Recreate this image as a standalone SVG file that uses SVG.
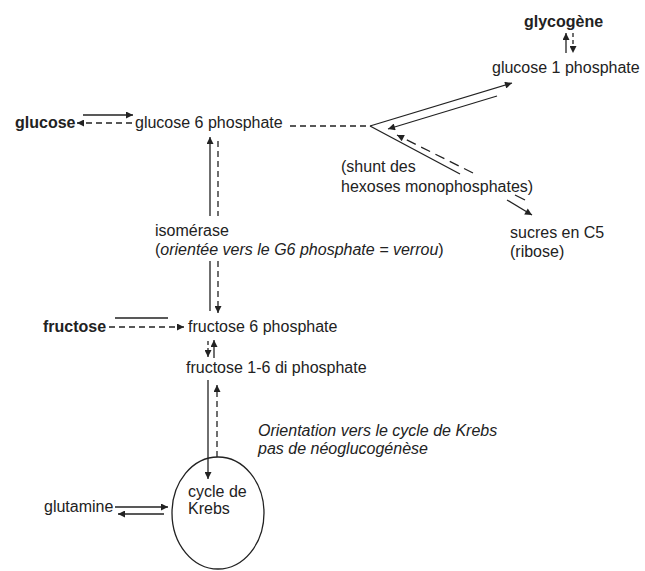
<svg xmlns="http://www.w3.org/2000/svg" width="645" height="571" viewBox="0 0 645 571">
<style>
.t{font-family:"Liberation Sans",Arial,Helvetica,sans-serif;font-size:16px;fill:#222}
.b{font-weight:bold}
.i{font-style:italic}
.s{stroke:#222;stroke-width:1.3;fill:none}
.d{stroke:#222;stroke-width:1.3;fill:none;stroke-dasharray:6 4}
</style>
<defs>
<marker id="ah" viewBox="0 0 10 10" refX="10" refY="5" markerWidth="9" markerHeight="7" orient="auto" markerUnits="userSpaceOnUse">
<path d="M0,0 L10,5 L0,10 z" fill="#222"/>
</marker>
</defs>
<rect width="645" height="571" fill="#ffffff"/>

<g id="glycogene"><text class="t b" x="524" y="27">glycogène</text></g>
<g id="glucose1p"><text class="t" x="492" y="73">glucose 1 phosphate</text></g>
<g id="glucose"><text class="t b" x="15" y="128">glucose</text></g>
<g id="glucose6p"><text class="t" x="135" y="128">glucose 6 phosphate</text></g>
<g id="shunt"><text class="t" x="341" y="172">(shunt des</text><text class="t" x="341" y="192">hexoses monophosphates)</text></g>
<g id="sucres"><text class="t" x="510" y="238">sucres en C5</text><text class="t" x="510" y="257">(ribose)</text></g>
<g id="isomerase"><text class="t" x="155" y="236">isomérase</text><text class="t" x="155" y="255">(<tspan class="i">orientée vers le G6 phosphate = verrou</tspan>)</text></g>
<g id="fructose"><text class="t b" x="43" y="332">fructose</text></g>
<g id="fructose6p"><text class="t" x="188" y="332">fructose 6 phosphate</text></g>
<g id="fructose16dp"><text class="t" x="186" y="373">fructose 1-6 di phosphate</text></g>
<g id="orientation"><text class="t i" x="258" y="436">Orientation vers le cycle de Krebs</text><text class="t i" x="258" y="454">pas de néoglucogénèse</text></g>
<g id="krebs"><ellipse cx="218" cy="513" rx="46" ry="56" class="s"/><text class="t" x="188" y="497">cycle de</text><text class="t" x="188" y="514">Krebs</text></g>
<g id="glutamine"><text class="t" x="44" y="512">glutamine</text></g>

<g id="connectors">
<line class="s" x1="566" y1="53" x2="566" y2="33" marker-end="url(#ah)"/>
<line class="d" x1="573" y1="33" x2="573" y2="53" style="stroke-dasharray:4 3" marker-end="url(#ah)"/>
<line class="s" x1="83" y1="115" x2="133" y2="115" marker-end="url(#ah)"/>
<line class="d" x1="132" y1="123" x2="77" y2="123" marker-end="url(#ah)"/>
<line class="d" x1="290" y1="126" x2="370" y2="126"/>
<line class="s" x1="370" y1="126" x2="512" y2="83" marker-end="url(#ah)"/>
<line class="s" x1="497" y1="96" x2="388" y2="129" marker-end="url(#ah)"/>
<line class="s" x1="370" y1="126" x2="460" y2="174"/>
<line class="d" x1="473" y1="173" x2="397" y2="135" style="stroke-dasharray:10 6" marker-end="url(#ah)"/>
<line class="s" x1="507" y1="200" x2="532" y2="215" marker-end="url(#ah)"/>
<line class="s" x1="515" y1="195" x2="525" y2="200"/>
<line class="s" x1="210" y1="216" x2="210" y2="137" marker-end="url(#ah)"/>
<line class="d" x1="218" y1="141" x2="218" y2="216"/>
<line class="s" x1="210" y1="261" x2="210" y2="311"/>
<line class="d" x1="218" y1="261" x2="218" y2="313" marker-end="url(#ah)"/>
<line class="s" x1="115" y1="318" x2="168" y2="318"/>
<line class="d" x1="109" y1="327" x2="184" y2="327" marker-end="url(#ah)"/>
<line class="d" x1="208" y1="341" x2="208" y2="357" style="stroke-dasharray:4 3" marker-end="url(#ah)"/>
<line class="s" x1="214" y1="358" x2="214" y2="340" marker-end="url(#ah)"/>
<line class="s" x1="208" y1="380" x2="208" y2="479" marker-end="url(#ah)"/>
<line class="d" x1="217" y1="457" x2="217" y2="385" marker-end="url(#ah)"/>
<line class="s" x1="115" y1="507" x2="168" y2="507" marker-end="url(#ah)"/>
<line class="s" x1="164" y1="514" x2="118" y2="514" marker-end="url(#ah)"/>
</g>
</svg>
